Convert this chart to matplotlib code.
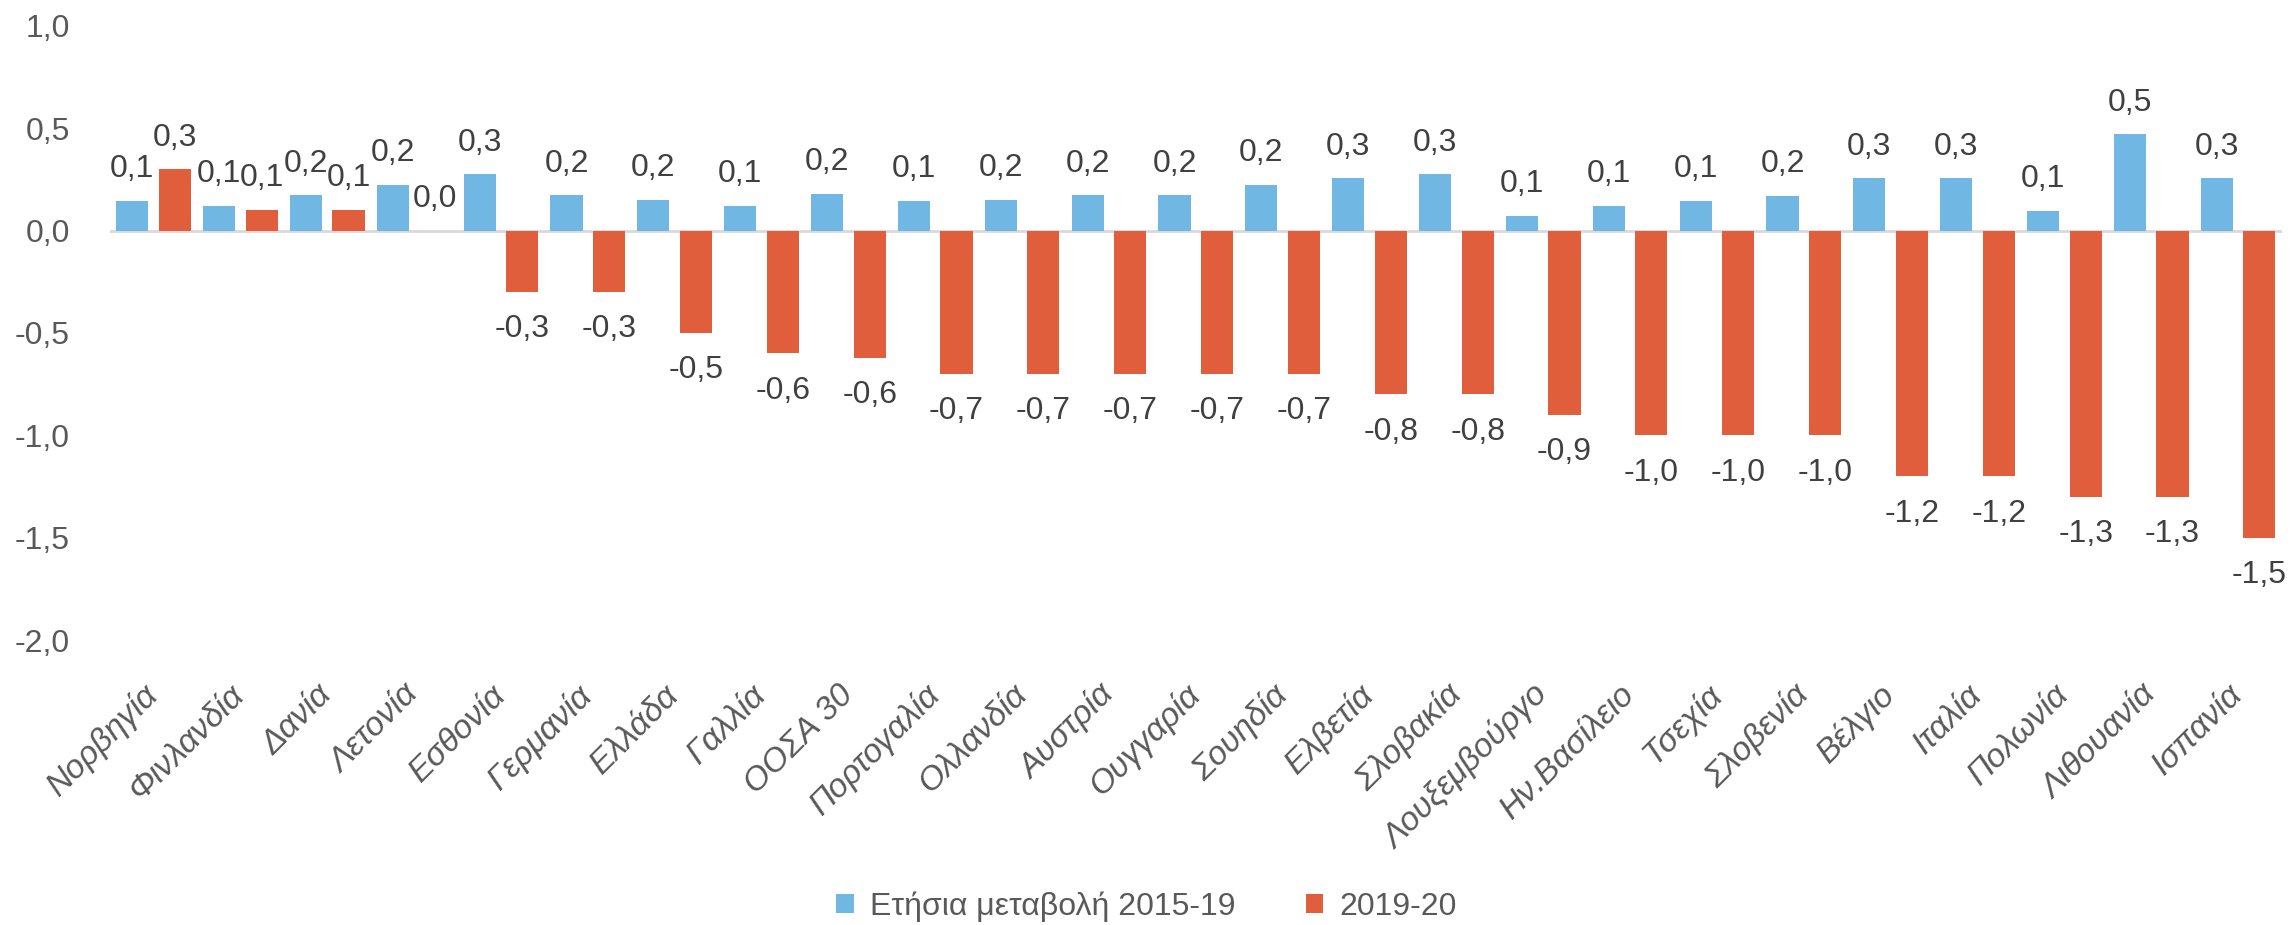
import matplotlib.pyplot as plt
import numpy as np

# Data
countries = ['Νορβηγία', 'Φινλανδία', 'Δανία', 'Λετονία', 'Εσθονία', 'Γερμανία',
             'Ελλάδα', 'Γαλλία', 'ΟΟΣΑ 30', 'Πορτογαλία', 'Ολλανδία', 'Αυστρία',
             'Ουγγαρία', 'Σουηδία', 'Ελβετία', 'Σλοβακία', 'Λουξεμβούργο',
             'Ην.Βασίλειο', 'Τσεχία', 'Σλοβενία', 'Βέλγιο', 'Ιταλία', 'Πολωνία',
             'Λιθουανία', 'Ισπανία']
change_2015_19 = [0.145, 0.122, 0.172, 0.224, 0.275, 0.172, 0.152, 0.122, 0.179,
                  0.145, 0.152, 0.172, 0.172, 0.224, 0.255, 0.275, 0.071, 0.121,
                  0.145, 0.171, 0.255, 0.255, 0.097, 0.47, 0.255]
change_2019_20 = [0.30, 0.10, 0.10, 0.0, -0.30, -0.30, -0.50, -0.60, -0.62,
                  -0.70, -0.70, -0.70, -0.70, -0.70, -0.80, -0.80, -0.90, -1.00,
                  -1.00, -1.00, -1.20, -1.20, -1.30, -1.30, -1.50]
series_names = ['Ετήσια μεταβολή 2015-19', '2019-20']

plt.rcParams['font.family'] = ['Liberation Sans', 'DejaVu Sans']

blue = '#71B7E3'
red = '#E15E3D'
label_col = '#404040'
tick_col = '#595959'

fig, ax = plt.subplots(figsize=(22.93, 9.25), dpi=100)
fig.subplots_adjust(left=0.048, right=0.995, top=0.972, bottom=0.308)

x = np.arange(len(countries))
w = 0.37
off = 0.245
b1 = ax.bar(x - off, change_2015_19, w, color=blue, label=series_names[0])
b2 = ax.bar(x + off, change_2019_20, w, color=red, label=series_names[1])

def fmt(v):
    return f'{v:.1f}'.replace('.', ',')

for bars, vals in [(b1, change_2015_19), (b2, change_2019_20)]:
    for bar, v in zip(bars, vals):
        cx = bar.get_x() + bar.get_width() / 2
        if v >= 0:
            ax.annotate(fmt(v), (cx, v), xytext=(0, 12), textcoords='offset points',
                        ha='center', va='bottom', fontsize=23, color=label_col)
        else:
            ax.annotate(fmt(v), (cx, v), xytext=(0, -16), textcoords='offset points',
                        ha='center', va='top', fontsize=23, color=label_col)

ax.axhline(0, color='#D9D9D9', linewidth=2, zorder=0)
ax.set_ylim(-2.0, 1.0)
ax.set_xlim(-0.5, len(countries) - 0.5)
ax.set_yticks(np.arange(-2.0, 1.01, 0.5))
ax.set_yticklabels([fmt(t) for t in np.arange(-2.0, 1.01, 0.5)])
ax.set_xticks(x)
ax.set_xticklabels(countries, rotation=45, ha='right', va='center',
                   rotation_mode='anchor', fontstyle='italic')
ax.tick_params(axis='x', length=0, pad=36, labelsize=24, labelcolor=tick_col)
ax.tick_params(axis='y', length=0, pad=29, labelsize=23, labelcolor=tick_col)
for s in ax.spines.values():
    s.set_visible(False)

fig.legend(loc='center', bbox_to_anchor=(0.5, 0.02), ncol=2, frameon=False,
           fontsize=23, labelcolor=tick_col, handlelength=0.55, handleheight=0.55,
           handletextpad=0.5, columnspacing=2.2)

fig.savefig('out.png', dpi=100)
